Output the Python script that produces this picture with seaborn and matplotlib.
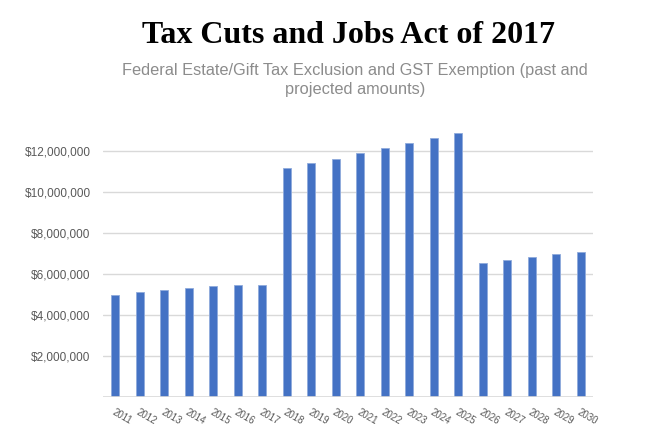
import matplotlib
matplotlib.use("Agg")
import pandas as pd
import seaborn as sns
import matplotlib.pyplot as plt
from matplotlib.ticker import FuncFormatter

# Exclusion amounts (dollars)
years = [str(y) for y in range(2011, 2031)]
amounts = [5000000, 5120000, 5250000, 5340000, 5430000, 5450000, 5490000,
           11180000, 11400000, 11620000, 11880000, 12130000, 12370000, 12610000, 12860000,
           6560000, 6700000, 6810000, 6960000, 7100000]
ytick_values = [2000000, 4000000, 6000000, 8000000, 10000000, 12000000]

df = pd.DataFrame({'Year': years, 'Amount': amounts})

sns.set_style('white')
fig = plt.figure(figsize=(6.67, 4.37), dpi=100)
ax = fig.add_axes([0.1544, 0.0909, 0.7346, 0.62])

sns.barplot(data=df, x='Year', y='Amount', color='#4472C4', saturation=1,
            width=0.33, edgecolor='#8FAADC', linewidth=0.6, ax=ax)

ax.set_xlim(-0.5, len(years) - 0.5)
ax.set_ylim(0, 13200000)
ax.set_yticks(ytick_values)
ax.yaxis.set_major_formatter(FuncFormatter(lambda v, p: '${:,.0f}'.format(v)))
ax.grid(axis='y', color='#d9d9d9', linewidth=1)
ax.axhline(0, color='#d9d9d9', linewidth=1.2)
ax.set_axisbelow(True)
for s in ax.spines.values():
    s.set_visible(False)
ax.set_xlabel('')
ax.set_ylabel('')
ax.tick_params(axis='y', length=0, pad=9, labelsize=8.5, labelcolor='#595959')
ax.tick_params(axis='x', length=0, pad=7, labelsize=7, labelcolor='#595959')
for lbl in ax.get_yticklabels() + ax.get_xticklabels():
    lbl.set_family('Liberation Sans')
plt.setp(ax.get_xticklabels(), rotation=-30, ha='left', rotation_mode='anchor')

fig.text(0.522, 0.918, 'Tax Cuts and Jobs Act of 2017', ha='center', va='center',
         fontsize=23, fontweight='bold', family='Liberation Serif', color='black')
fig.text(0.532, 0.817, 'Federal Estate/Gift Tax Exclusion and GST Exemption (past and\nprojected amounts)',
         ha='center', va='center', fontsize=11.8, family='Liberation Sans', color='#8c8c8c',
         linespacing=1.3)

fig.savefig('out.png', dpi=100)
